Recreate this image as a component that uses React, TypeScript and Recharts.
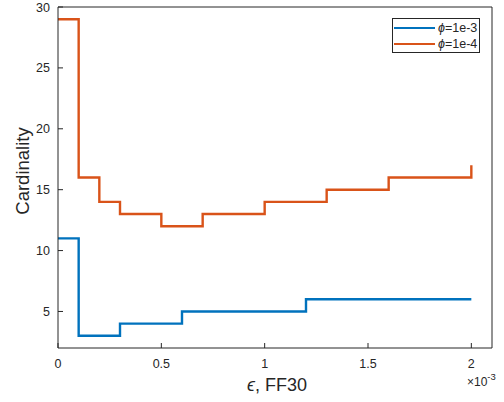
import {
  LineChart,
  Line,
  XAxis,
  YAxis,
  Legend,
  Label,
  ReferenceLine,
} from "recharts";

// epsilon in units of 1e-3
const epsilon = [
  0, 0.1, 0.2, 0.3, 0.4, 0.5, 0.6, 0.7, 0.8, 0.9, 1.0, 1.1, 1.2, 1.3, 1.4, 1.5,
  1.6, 1.7, 1.8, 1.9, 2.0,
];
const phi1e3 = [11, 3, 3, 4, 4, 4, 5, 5, 5, 5, 5, 5, 6, 6, 6, 6, 6, 6, 6, 6, 6];
const phi1e4 = [
  29, 16, 14, 13, 13, 12, 12, 13, 13, 13, 14, 14, 14, 15, 15, 15, 16, 16, 16, 16,
  17,
];
const xTicks = [0, 0.5, 1, 1.5, 2];
const yTicks = [5, 10, 15, 20, 25, 30];
const xMax = 2.1;
const yRange = [2, 30];
const seriesNames = ["=1e-3", "=1e-4"];
const colors = ["#0072BD", "#D95319"];

const data = epsilon.map((e, i) => ({ e, a: phi1e3[i], b: phi1e4[i] }));

const FONT = "'Liberation Sans', Arial, Helvetica, sans-serif";
const AX = "#262626";

function LegendBox() {
  return (
    <div
      style={{
        border: `1px solid ${AX}`,
        background: "#fff",
        width: 86,
        height: 33,
        boxSizing: "content-box",
        fontFamily: FONT,
        fontSize: 12.5,
        color: AX,
        position: "relative",
      }}
    >
      {seriesNames.map((n, i) => (
        <div
          key={n}
          style={{
            position: "absolute",
            left: 0,
            top: 2 + i * 16,
            height: 14,
            display: "flex",
            alignItems: "center",
            whiteSpace: "nowrap",
          }}
        >
          <div
            style={{
              width: 41,
              height: 2.5,
              marginLeft: 1,
              marginRight: 3,
              background: colors[i],
            }}
          />
          <span>
            <i>ϕ</i>
            {n}
          </span>
        </div>
      ))}
    </div>
  );
}

export default function App() {
  return (
    <div style={{ position: "absolute", left: 0, top: 0 }}>
      <LineChart
        width={504}
        height={402}
        data={data}
        margin={{ top: 7, right: 12, bottom: 24, left: 18 }}
        style={{ background: "#fff" }}
      >
        <XAxis
          dataKey="e"
          type="number"
          domain={[0, xMax]}
          ticks={xTicks}
          allowDataOverflow
          height={30}
          tickSize={-5}
          tickMargin={16}
          stroke={AX}
          tick={{ fill: AX, fontSize: 12.5, fontFamily: FONT }}
        >
          <Label
            content={({ viewBox }: any) => (
              <g fontFamily={FONT} fill={AX}>
                <text
                  x={viewBox.x + viewBox.width / 2 + 2}
                  y={391}
                  textAnchor="middle"
                  fontSize={18}
                >
                  <tspan fontStyle="italic">ϵ</tspan>, FF30
                </text>
                <text x={467} y={386} fontSize={12}>
                  ×10
                  <tspan dy={-6} fontSize={9.5}>
                    -3
                  </tspan>
                </text>
              </g>
            )}
          />
        </XAxis>
        <XAxis
          xAxisId="top"
          dataKey="e"
          type="number"
          orientation="top"
          mirror
          domain={[0, xMax]}
          ticks={xTicks}
          allowDataOverflow
          height={1}
          tick={false}
          tickSize={5}
          axisLine={false}
          stroke={AX}
        />
        <YAxis
          type="number"
          domain={yRange}
          ticks={yTicks}
          allowDataOverflow
          width={40}
          tickSize={-5}
          tickMargin={13}
          stroke={AX}
          tick={{ fill: AX, fontSize: 12.5, fontFamily: FONT }}
        >
          <Label
            content={() => (
              <text
                x={29}
                y={171}
                transform="rotate(-90 29 171)"
                textAnchor="middle"
                fontSize={18.5}
                fontFamily={FONT}
                fill={AX}
              >
                Cardinality
              </text>
            )}
          />
        </YAxis>
        <YAxis
          yAxisId="right"
          orientation="right"
          mirror
          type="number"
          domain={yRange}
          ticks={yTicks}
          allowDataOverflow
          width={1}
          tick={false}
          tickSize={5}
          axisLine={false}
          stroke={AX}
        />
        <ReferenceLine y={yRange[1]} stroke={AX} ifOverflow="visible" />
        <ReferenceLine x={xMax} stroke={AX} ifOverflow="visible" />
        <Legend
          layout="horizontal"
          verticalAlign="middle"
          align="center"
          content={() => <LegendBox />}
          wrapperStyle={{ position: "absolute", left: 392, top: 18, width: 88 }}
        />
        <Line
          dataKey="a"
          xAxisId="top"
          type="stepAfter"
          stroke={colors[0]}
          strokeWidth={2.4}
          dot={false}
          isAnimationActive={false}
        />
        <Line
          dataKey="b"
          yAxisId="right"
          type="stepAfter"
          stroke={colors[1]}
          strokeWidth={2.4}
          dot={false}
          isAnimationActive={false}
        />
      </LineChart>
    </div>
  );
}
